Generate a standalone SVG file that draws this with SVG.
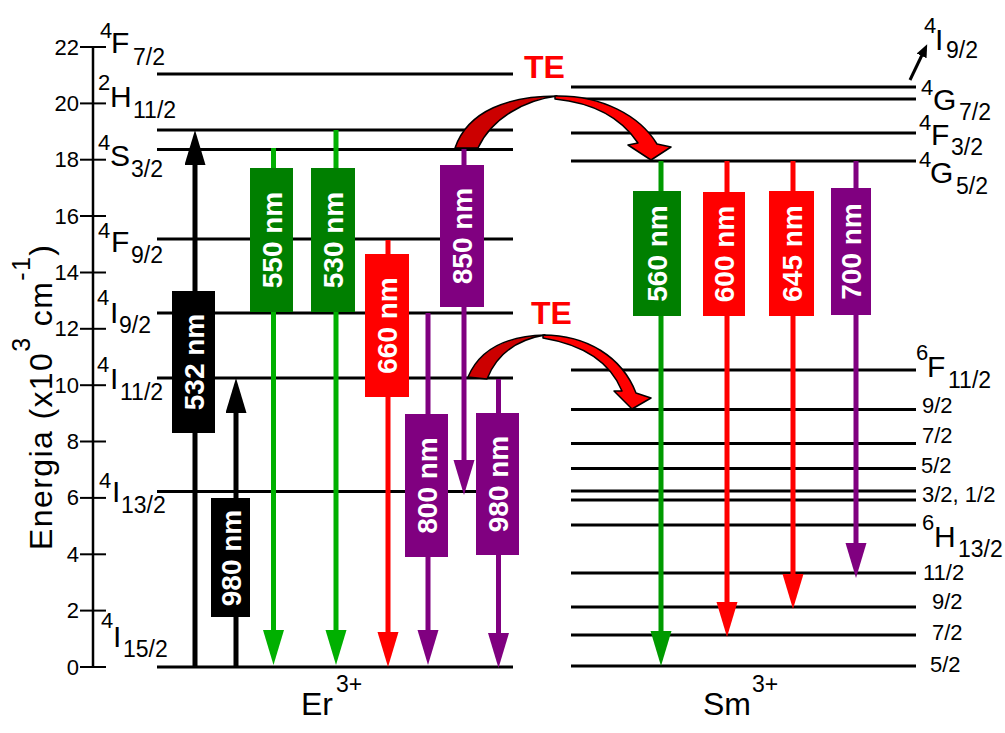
<svg xmlns="http://www.w3.org/2000/svg" width="1005" height="733" viewBox="0 0 1005 733">
<style>
text{font-family:"Liberation Sans",Arial,sans-serif;fill:#000}
.lvl{stroke:#000;stroke-width:3}
.tick{stroke:#000;stroke-width:2}
.tl{font-size:22px;text-anchor:end}
.big{font-size:30px}
.sup{font-size:22px}
.sub{font-size:23px}
.sm{font-size:22px}
.bt{font-size:28px;font-weight:bold;fill:#fff;text-anchor:middle}
.te{font-size:32px;font-weight:bold;fill:#ff0000}
.tr{fill:none;stroke-width:5}
.k{stroke:#000}.g1{stroke:#00b000}.g2{stroke:#009a00}.r{stroke:#ff0000}.p{stroke:#800080}
.tea{stroke:#000;stroke-width:1.5;stroke-linejoin:round}
</style>
<defs>
<marker id="ak" markerUnits="userSpaceOnUse" markerWidth="36" markerHeight="22" refX="2" refY="10.5" orient="auto"><path d="M0,0 L35,10.5 L0,21 Z" fill="#000"/></marker>
<marker id="ag1" markerUnits="userSpaceOnUse" markerWidth="36" markerHeight="22" refX="2" refY="10.5" orient="auto"><path d="M0,0 L35,10.5 L0,21 Z" fill="#00b000"/></marker>
<marker id="ag2" markerUnits="userSpaceOnUse" markerWidth="36" markerHeight="22" refX="2" refY="10.5" orient="auto"><path d="M0,0 L35,10.5 L0,21 Z" fill="#009a00"/></marker>
<marker id="ar" markerUnits="userSpaceOnUse" markerWidth="36" markerHeight="22" refX="2" refY="10.5" orient="auto"><path d="M0,0 L35,10.5 L0,21 Z" fill="#ff0000"/></marker>
<marker id="ap" markerUnits="userSpaceOnUse" markerWidth="36" markerHeight="22" refX="2" refY="10.5" orient="auto"><path d="M0,0 L35,10.5 L0,21 Z" fill="#800080"/></marker>
<marker id="asm" markerUnits="userSpaceOnUse" markerWidth="14" markerHeight="12" refX="1" refY="5.5" orient="auto"><path d="M0,0 L13,5.5 L0,11 Z" fill="#000"/></marker>
</defs>
<rect width="1005" height="733" fill="#fff"/>

<g id="axis">
<line x1="93" y1="47" x2="93" y2="667" stroke="#000" stroke-width="2.5"/>
<g class="tick">
<line x1="80" y1="47" x2="106" y2="47"/><line x1="80" y1="103.4" x2="106" y2="103.4"/><line x1="80" y1="159.7" x2="106" y2="159.7"/><line x1="80" y1="216" x2="106" y2="216"/><line x1="80" y1="272.5" x2="106" y2="272.5"/><line x1="80" y1="328.8" x2="106" y2="328.8"/><line x1="80" y1="385.2" x2="106" y2="385.2"/><line x1="80" y1="441.5" x2="106" y2="441.5"/><line x1="80" y1="497.9" x2="106" y2="497.9"/><line x1="80" y1="554.3" x2="106" y2="554.3"/><line x1="80" y1="610.6" x2="106" y2="610.6"/><line x1="80" y1="667" x2="106" y2="667"/>
</g>
<text class="tl" x="79" y="55">22</text><text class="tl" x="79" y="111">20</text><text class="tl" x="79" y="167">18</text><text class="tl" x="79" y="224">16</text><text class="tl" x="79" y="280">14</text><text class="tl" x="79" y="336">12</text><text class="tl" x="79" y="393">10</text><text class="tl" x="79" y="449">8</text><text class="tl" x="79" y="505">6</text><text class="tl" x="79" y="562">4</text><text class="tl" x="79" y="618">2</text><text class="tl" x="79" y="675">0</text>
<text transform="translate(52,550) rotate(-90)" font-size="32" letter-spacing="1.4">Energia (x10<tspan font-size="25" dy="-22">3</tspan><tspan dy="22"> cm</tspan><tspan font-size="25" dy="-22">-1</tspan><tspan dy="22">)</tspan></text>
</g>

<g id="er-levels" class="lvl">
<line x1="157" y1="74" x2="513" y2="74"/><line x1="157" y1="130" x2="513" y2="130"/><line x1="157" y1="149.5" x2="513" y2="149.5"/><line x1="157" y1="239" x2="513" y2="239"/><line x1="157" y1="313" x2="513" y2="313"/><line x1="157" y1="378" x2="513" y2="378"/><line x1="157" y1="491.5" x2="513" y2="491.5"/><line x1="157" y1="667" x2="513" y2="667"/>
</g>
<g id="sm-levels" class="lvl">
<line x1="571" y1="87" x2="916" y2="87"/><line x1="571" y1="99" x2="916" y2="99"/><line x1="571" y1="133" x2="916" y2="133"/><line x1="571" y1="161" x2="916" y2="161"/><line x1="571" y1="370" x2="916" y2="370"/><line x1="571" y1="409.5" x2="916" y2="409.5"/><line x1="571" y1="443.5" x2="916" y2="443.5"/><line x1="571" y1="468.5" x2="916" y2="468.5"/><line x1="571" y1="491" x2="916" y2="491"/><line x1="571" y1="500" x2="916" y2="500"/><line x1="571" y1="525" x2="916" y2="525"/><line x1="571" y1="573" x2="916" y2="573"/><line x1="571" y1="607" x2="916" y2="607"/><line x1="571" y1="635" x2="916" y2="635"/><line x1="571" y1="666" x2="916" y2="666"/>
</g>

<g id="connectors">
<line class="tr k" x1="195" y1="667" x2="195" y2="163" marker-end="url(#ak)"/>
<line class="tr k" x1="236" y1="667" x2="236" y2="411" marker-end="url(#ak)"/>
<line class="tr g1" x1="273.5" y1="148" x2="273.5" y2="632" marker-end="url(#ag1)"/>
<line class="tr g1" x1="336" y1="130" x2="336" y2="632" marker-end="url(#ag1)"/>
<line class="tr r" x1="388" y1="240" x2="388" y2="634" marker-end="url(#ar)"/>
<line class="tr p" x1="464" y1="149" x2="464" y2="462" marker-end="url(#ap)"/>
<line class="tr p" x1="428" y1="313" x2="428" y2="632" marker-end="url(#ap)"/>
<line class="tr p" x1="498.5" y1="379" x2="498.5" y2="635" marker-end="url(#ap)"/>
<line class="tr g2" x1="661" y1="161" x2="661" y2="633" marker-end="url(#ag2)"/>
<line class="tr r" x1="727" y1="161" x2="727" y2="604" marker-end="url(#ar)"/>
<line class="tr r" x1="793" y1="161" x2="793" y2="576" marker-end="url(#ar)"/>
<line class="tr p" x1="856" y1="161" x2="856" y2="545" marker-end="url(#ap)"/>
<line x1="910" y1="80" x2="922" y2="55" stroke="#000" stroke-width="3" marker-end="url(#asm)"/>
<g id="te1">
<path class="tea" fill="#cc0000" d="M455,148 C468,110 510,96 557,96 C525,100 492,118 478,148 Z"/>
<path class="tea" fill="#ff0000" d="M555,96 C602,95 640,116 657,144 L671,147 L651,160 L628,145 L638,143 C622,119 595,103 555,99 Z"/>
</g>
<g id="te2">
<path class="tea" fill="#cc0000" d="M468,377 C479,351 505,336 545,335 C515,340 496,356 487,379 Z"/>
<path class="tea" fill="#ff0000" d="M543,335 C587,335 622,357 636,393 L651,398 L632,409 L614,391 L622,391 C611,364 585,345 543,338 Z"/>
</g>
</g>

<g id="box-532"><rect x="172" y="291" width="43" height="142" fill="#000"/><text class="bt" transform="translate(193.5,362) rotate(-90)" y="10">532 nm</text></g>
<g id="box-980a"><rect x="211" y="498" width="39" height="119" fill="#000"/><text class="bt" transform="translate(230.5,558) rotate(-90)" y="10">980 nm</text></g>
<g id="box-550"><rect x="250" y="168" width="43" height="144" fill="#007f00"/><text class="bt" transform="translate(271.5,240) rotate(-90)" y="10">550 nm</text></g>
<g id="box-530"><rect x="311" y="168" width="44" height="144" fill="#007f00"/><text class="bt" transform="translate(333,240) rotate(-90)" y="10">530 nm</text></g>
<g id="box-660"><rect x="365" y="254" width="44" height="143" fill="#ff0000"/><text class="bt" transform="translate(387,325.5) rotate(-90)" y="10">660 nm</text></g>
<g id="box-850"><rect x="440" y="165" width="44" height="142" fill="#800080"/><text class="bt" transform="translate(462,236) rotate(-90)" y="10">850 nm</text></g>
<g id="box-800"><rect x="405" y="414" width="43" height="143" fill="#800080"/><text class="bt" transform="translate(426.5,485.5) rotate(-90)" y="10">800 nm</text></g>
<g id="box-980b"><rect x="476" y="413" width="43" height="142" fill="#800080"/><text class="bt" transform="translate(497.5,484) rotate(-90)" y="10">980 nm</text></g>
<g id="box-560"><rect x="633" y="191" width="48" height="125" fill="#007f00"/><text class="bt" transform="translate(657,253.5) rotate(-90)" y="10">560 nm</text></g>
<g id="box-600"><rect x="703" y="192" width="42" height="124" fill="#ff0000"/><text class="bt" transform="translate(724,254) rotate(-90)" y="10">600 nm</text></g>
<g id="box-645"><rect x="769" y="191" width="45" height="125" fill="#ff0000"/><text class="bt" transform="translate(791.5,253.5) rotate(-90)" y="10">645 nm</text></g>
<g id="box-700"><rect x="831" y="188" width="40" height="127" fill="#800080"/><text class="bt" transform="translate(851,251.5) rotate(-90)" y="10">700 nm</text></g>

<g id="te-labels">
<text class="te" x="524" y="78">TE</text>
<text class="te" x="531" y="324">TE</text>
</g>

<g id="er-labels">
<text class="sup" x="100" y="38">4</text><text class="big" x="111" y="53">F</text><text class="sub" x="133" y="65">7/2</text>
<text class="sup" x="98" y="90">2</text><text class="big" x="110" y="107">H</text><text class="sub" x="133" y="118">11/2</text>
<text class="sup" x="98" y="150">4</text><text class="big" x="110" y="166">S</text><text class="sub" x="131" y="177">3/2</text>
<text class="sup" x="98" y="238">4</text><text class="big" x="111" y="252">F</text><text class="sub" x="131" y="263">9/2</text>
<text class="sup" x="97" y="305">4</text><text class="big" x="110" y="323">I</text><text class="sub" x="119" y="333">9/2</text>
<text class="sup" x="97" y="372">4</text><text class="big" x="110" y="389">I</text><text class="sub" x="120" y="400">11/2</text>
<text class="sup" x="99" y="488">4</text><text class="big" x="112" y="502">I</text><text class="sub" x="121" y="513">13/2</text>
<text class="sup" x="101" y="628">4</text><text class="big" x="113" y="647">I</text><text class="sub" x="123" y="657">15/2</text>
<text x="301" y="715" font-size="32">Er</text><text x="336" y="692" font-size="23">3+</text>
</g>

<g id="sm-labels">
<text class="sup" x="924" y="33">4</text><text class="big" x="935" y="50">I</text><text class="sub" x="946" y="58">9/2</text>
<text class="sup" x="921" y="95">4</text><text class="big" x="933" y="110">G</text><text class="sub" x="959" y="120">7/2</text>
<text class="sup" x="919" y="130">4</text><text class="big" x="931" y="145">F</text><text class="sub" x="951" y="155">3/2</text>
<text class="sup" x="919" y="167">4</text><text class="big" x="930" y="183">G</text><text class="sub" x="956" y="194">5/2</text>
<text class="sup" x="916" y="360">6</text><text class="big" x="927" y="377">F</text><text class="sub" x="948" y="388">11/2</text>
<text class="sm" x="922" y="413">9/2</text>
<text class="sm" x="922" y="443">7/2</text>
<text class="sm" x="921" y="473">5/2</text>
<text class="sm" x="922" y="502">3/2, 1/2</text>
<text class="sup" x="922" y="530">6</text><text class="big" x="934" y="547">H</text><text class="sub" x="958" y="557">13/2</text>
<text class="sm" x="923" y="580">11/2</text>
<text class="sm" x="932" y="609">9/2</text>
<text class="sm" x="932" y="640">7/2</text>
<text class="sm" x="930" y="672">5/2</text>
<text x="703" y="715" font-size="32">Sm</text><text x="752" y="692" font-size="23">3+</text>
</g>
</svg>
